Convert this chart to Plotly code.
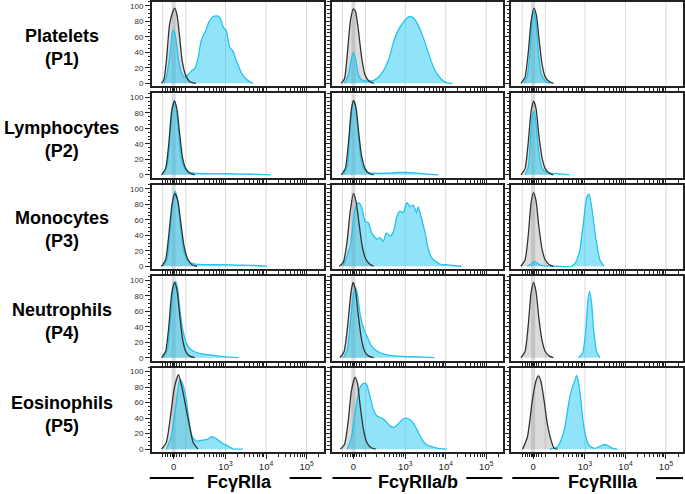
import plotly.graph_objects as go

# ---- axis labels / categories ----
row_labels = ["Platelets<br>(P1)", "Lymphocytes<br>(P2)", "Monocytes<br>(P3)",
              "Neutrophils<br>(P4)", "Eosinophils<br>(P5)"]
col_labels = ["FcγRIIa", "FcγRIIa/b", "FcγRIIIa"]
y_ticks = [0, 20, 40, 60, 80, 100]
# x positions in display (logicle-like) units
x_tick_vals = [0.0, 1.28, 2.28, 3.28]
x_tick_text = ["0", "10<sup>3</sup>", "10<sup>4</sup>", "10<sup>5</sup>"]
x_grid_vals = [-0.27, 0.30, 1.28, 2.28, 3.28]
x_minor_vals = [-0.27, -0.2, -0.14, -0.08, -0.03, -0.015, 0.015, 0.03, 0.08, 0.14, 0.2, 0.30,
                0.58, 0.76, 0.88, 0.98, 1.06, 1.13, 1.19, 1.23,
                1.58, 1.76, 1.88, 1.98, 2.06, 2.13, 2.19, 2.23,
                2.58, 2.76, 2.88, 2.98, 3.06, 3.13, 3.19, 3.23, 3.58]

# ---- histogram data (x in display units, y = % of max) ----
# Row 1 Platelets
g_x_r1c1 = [-0.3, -0.24, -0.18, -0.1, -0.03, 0.025, 0.08, 0.15, 0.21, 0.3, 0.4, 0.55]
g_y_r1c1 = [0, 5, 29, 76, 91, 97, 89, 59, 29, 10, 2, 0]
b_x_r1c1 = [-0.24, -0.18, -0.1, -0.03, 0, 0.05, 0.11, 0.19, 0.27, 0.35, 0.44, 0.52, 0.6, 0.68,
            0.79, 0.87, 0.97, 1.07, 1.15, 1.23, 1.3, 1.38, 1.46, 1.55, 1.67, 1.8, 1.96]
b_y_r1c1 = [0, 8, 34, 66, 69, 59, 34, 14, 8, 11, 16, 19, 32, 55, 68, 79, 86, 87, 84, 72, 68,
            47, 42, 29, 14, 5, 0]

g_x_r1c2 = [-0.3, -0.22, -0.15, -0.07, 0.0, 0.05, 0.12, 0.2, 0.28, 0.38, 0.5]
g_y_r1c2 = [0, 6, 38, 82, 96, 93, 70, 35, 12, 3, 0]
b_x_r1c2 = [-0.22, -0.12, -0.05, 0.0, 0.06, 0.13, 0.22, 0.35, 0.5, 0.62, 0.75, 0.88, 1.0, 1.12,
            1.25, 1.37, 1.47, 1.57, 1.72, 1.86, 2.0, 2.16, 2.3, 2.45]
b_y_r1c2 = [0, 12, 32, 40, 30, 10, 4, 3, 4, 8, 17, 32, 55, 70, 80, 86, 85, 78, 60, 38, 18, 6, 1, 0]

g_x_r1c3 = [-0.3, -0.2, -0.12, -0.05, 0.02, 0.08, 0.15, 0.22, 0.3, 0.4, 0.5]
g_y_r1c3 = [0, 8, 40, 80, 97, 88, 55, 25, 8, 2, 0]
b_x_r1c3 = [-0.22, -0.14, -0.07, -0.02, 0.02, 0.07, 0.13, 0.2, 0.3, 0.42]
b_y_r1c3 = [0, 10, 45, 85, 93, 78, 40, 12, 3, 0]

# Row 2 Lymphocytes
g_x_r2c1 = [-0.3, -0.2, -0.12, -0.05, 0.02, 0.08, 0.15, 0.22, 0.3, 0.4, 0.52]
g_y_r2c1 = [0, 8, 40, 82, 95, 85, 52, 22, 8, 2, 0]
b_x_r2c1 = [-0.26, -0.16, -0.08, -0.02, 0.02, 0.08, 0.15, 0.22, 0.32, 0.5, 0.9, 1.3, 1.7, 2.1, 2.4]
b_y_r2c1 = [0, 12, 55, 90, 96, 78, 38, 14, 5, 2, 1.5, 1.5, 1, 0.5, 0]

g_x_r2c2 = [-0.3, -0.2, -0.12, -0.05, 0.0, 0.06, 0.13, 0.2, 0.28, 0.38, 0.5]
g_y_r2c2 = [0, 8, 42, 84, 96, 88, 55, 25, 9, 2, 0]
b_x_r2c2 = [-0.25, -0.15, -0.08, -0.02, 0.02, 0.08, 0.15, 0.22, 0.32, 0.5, 0.8, 1.1, 1.3, 1.5, 1.8, 2.1]
b_y_r2c2 = [0, 12, 58, 92, 95, 75, 35, 12, 4, 2, 2, 3, 3, 2.5, 1, 0]

g_x_r2c3 = [-0.3, -0.2, -0.12, -0.05, 0.01, 0.07, 0.14, 0.22, 0.3, 0.4, 0.5]
g_y_r2c3 = [0, 8, 42, 82, 95, 86, 52, 22, 8, 2, 0]
b_x_r2c3 = [-0.2, -0.12, -0.06, -0.01, 0.03, 0.08, 0.14, 0.22, 0.35, 0.6, 0.9]
b_y_r2c3 = [0, 10, 50, 78, 82, 62, 28, 8, 3, 1.5, 0]

# Row 3 Monocytes
g_x_r3c1 = [-0.3, -0.2, -0.12, -0.04, 0.03, 0.1, 0.18, 0.26, 0.35, 0.45, 0.58]
g_y_r3c1 = [0, 8, 40, 80, 94, 85, 55, 25, 9, 2, 0]
b_x_r3c1 = [-0.26, -0.16, -0.08, -0.01, 0.04, 0.1, 0.17, 0.25, 0.35, 0.5, 0.8, 1.2, 1.6, 2.0, 2.3]
b_y_r3c1 = [0, 10, 50, 88, 97, 85, 50, 20, 7, 3, 2, 2, 1.5, 1, 0]

g_x_r3c2 = [-0.35, -0.25, -0.16, -0.08, 0.0, 0.06, 0.14, 0.22, 0.3, 0.4, 0.5]
g_y_r3c2 = [0, 5, 30, 70, 94, 85, 55, 25, 10, 3, 0]
b_x_r3c2 = [-0.25, -0.08, 0.04, 0.12, 0.2, 0.29, 0.37, 0.45, 0.58, 0.66, 0.74, 0.81, 0.91, 0.99,
            1.07, 1.15, 1.23, 1.32, 1.40, 1.48, 1.56, 1.60, 1.69, 1.77, 1.85, 1.93, 2.06, 2.18,
            2.30, 2.43, 2.67]
b_y_r3c2 = [0, 26, 73, 82, 77, 58, 56, 43, 35, 37, 32, 43, 39, 45, 64, 71, 69, 82, 77, 79, 69, 77,
            60, 43, 22, 11, 5, 2, 2, 1, 0]

g_x_r3c3 = [-0.3, -0.2, -0.12, -0.05, 0.01, 0.07, 0.14, 0.22, 0.3, 0.4, 0.5]
g_y_r3c3 = [0, 8, 40, 82, 95, 85, 52, 22, 8, 2, 0]
b_x_r3c3 = [-0.15, -0.05, 0.03, 0.1, 0.2, 0.3, 0.6, 0.95, 1.05, 1.15, 1.25, 1.32, 1.38, 1.45,
            1.55, 1.65, 1.75]
b_y_r3c3 = [0, 3, 6, 4, 1, 0.5, 0, 0, 5, 20, 60, 88, 93, 75, 35, 8, 0]

# Row 4 Neutrophils
g_x_r4c1 = [-0.3, -0.2, -0.12, -0.05, 0.02, 0.08, 0.15, 0.22, 0.3, 0.4, 0.52]
g_y_r4c1 = [0, 8, 40, 82, 97, 88, 55, 24, 8, 2, 0]
b_x_r4c1 = [-0.25, -0.15, -0.07, 0.0, 0.05, 0.1, 0.17, 0.25, 0.35, 0.5, 0.7, 1.0, 1.3, 1.6]
b_y_r4c1 = [0, 12, 55, 92, 98, 88, 55, 30, 15, 8, 5, 3, 1, 0]

g_x_r4c2 = [-0.33, -0.23, -0.14, -0.06, -0.01, 0.05, 0.12, 0.2, 0.28, 0.38, 0.5]
g_y_r4c2 = [0, 8, 42, 84, 97, 88, 55, 24, 8, 2, 0]
b_x_r4c2 = [-0.25, -0.15, -0.07, 0.0, 0.05, 0.1, 0.17, 0.25, 0.33, 0.45, 0.6, 0.8, 1.1, 1.6, 2.0]
b_y_r4c2 = [0, 10, 48, 82, 90, 82, 55, 38, 28, 15, 8, 4, 2, 1, 0]

g_x_r4c3 = [-0.3, -0.2, -0.12, -0.05, 0.01, 0.07, 0.14, 0.22, 0.3, 0.4, 0.5]
g_y_r4c3 = [0, 8, 42, 84, 97, 86, 52, 22, 8, 2, 0]
b_x_r4c3 = [1.12, 1.22, 1.29, 1.35, 1.39, 1.44, 1.5, 1.57, 1.65]
b_y_r4c3 = [0, 6, 30, 72, 86, 72, 32, 7, 0]

# Row 5 Eosinophils
g_x_r5c1 = [-0.3, -0.18, -0.06, 0.02, 0.12, 0.22, 0.35, 0.48, 0.6]
g_y_r5c1 = [0, 9, 50, 80, 96, 76, 41, 9, 0]
b_x_r5c1 = [-0.18, -0.06, 0.05, 0.15, 0.21, 0.30, 0.38, 0.46, 0.56, 0.64, 0.77, 0.85, 0.93, 1.01,
            1.09, 1.22, 1.34, 1.46, 1.71]
b_y_r5c1 = [0, 16, 54, 90, 86, 67, 37, 16, 10.5, 11, 12, 13, 16, 15, 12, 7, 4, 0.5, 0]

g_x_r5c2 = [-0.32, -0.22, -0.13, -0.05, 0.04, 0.1, 0.17, 0.25, 0.33, 0.43, 0.55]
g_y_r5c2 = [0, 6, 35, 75, 93, 85, 55, 25, 9, 2, 0]
b_x_r5c2 = [-0.15, -0.05, 0.05, 0.15, 0.25, 0.32, 0.4, 0.5, 0.6, 0.7, 0.8, 0.9, 1.0, 1.1, 1.2,
            1.3, 1.4, 1.5, 1.6, 1.7, 1.8, 1.95, 2.1, 2.3]
b_y_r5c2 = [0, 15, 50, 78, 85, 84, 70, 50, 42, 40, 36, 30, 28, 32, 38, 40, 38, 32, 22, 12, 6, 3, 1, 0]

g_x_r5c3 = [-0.26, -0.14, -0.02, 0.07, 0.13, 0.19, 0.27, 0.35, 0.44, 0.52, 0.6]
g_y_r5c3 = [0, 16, 63, 88, 94.5, 88, 63, 33, 12, 1, 0]
b_x_r5c3 = [0.4, 0.6, 0.77, 0.89, 0.97, 1.04, 1.07, 1.12, 1.18, 1.23, 1.30, 1.38, 1.51, 1.63,
            1.75, 1.83, 1.96, 2.08]
b_y_r5c3 = [0, 3, 25, 63, 80, 90, 95, 86, 63, 37, 16, 5, 1, 3, 6, 5, 1, 0]

panels = [
    [(g_x_r1c1, g_y_r1c1, b_x_r1c1, b_y_r1c1), (g_x_r1c2, g_y_r1c2, b_x_r1c2, b_y_r1c2),
     (g_x_r1c3, g_y_r1c3, b_x_r1c3, b_y_r1c3)],
    [(g_x_r2c1, g_y_r2c1, b_x_r2c1, b_y_r2c1), (g_x_r2c2, g_y_r2c2, b_x_r2c2, b_y_r2c2),
     (g_x_r2c3, g_y_r2c3, b_x_r2c3, b_y_r2c3)],
    [(g_x_r3c1, g_y_r3c1, b_x_r3c1, b_y_r3c1), (g_x_r3c2, g_y_r3c2, b_x_r3c2, b_y_r3c2),
     (g_x_r3c3, g_y_r3c3, b_x_r3c3, b_y_r3c3)],
    [(g_x_r4c1, g_y_r4c1, b_x_r4c1, b_y_r4c1), (g_x_r4c2, g_y_r4c2, b_x_r4c2, b_y_r4c2),
     (g_x_r4c3, g_y_r4c3, b_x_r4c3, b_y_r4c3)],
    [(g_x_r5c1, g_y_r5c1, b_x_r5c1, b_y_r5c1), (g_x_r5c2, g_y_r5c2, b_x_r5c2, b_y_r5c2),
     (g_x_r5c3, g_y_r5c3, b_x_r5c3, b_y_r5c3)],
]

# ---- layout geometry (pixels) ----
W, H = 685, 494
col_left = [152, 332, 512]
col_w = 172
row_top = [1, 93, 185, 277, 369]
row_h = 85

fig = go.Figure()
layout = dict(width=W, height=H, margin=dict(l=0, r=0, t=0, b=0),
              paper_bgcolor="white", plot_bgcolor="white", showlegend=False,
              font=dict(family="Liberation Sans, Arial, sans-serif", color="#222"))

shapes = []
annotations = []
FONT = "Liberation Sans, Arial, sans-serif"

for r in range(5):
    for c in range(3):
        i = r * 3 + c + 1
        xa = "x" if i == 1 else f"x{i}"
        ya = "y" if i == 1 else f"y{i}"
        gx, gy, bx, by = panels[r][c]
        fig.add_trace(go.Scatter(x=gx, y=gy, xaxis=xa, yaxis=ya, mode="lines",
                                 line=dict(width=0, shape="spline", smoothing=0.6),
                                 fill="tozeroy", fillcolor="rgba(140,140,140,0.30)",
                                 hoverinfo="skip"))
        fig.add_trace(go.Scatter(x=bx, y=by, xaxis=xa, yaxis=ya, mode="lines",
                                 line=dict(width=1.3, color="#25c3ee", shape="spline", smoothing=0.6),
                                 fill="tozeroy", fillcolor="rgba(35,200,242,0.50)",
                                 hoverinfo="skip"))
        fig.add_trace(go.Scatter(x=gx, y=gy, xaxis=xa, yaxis=ya, mode="lines",
                                 line=dict(width=1.3, color="#333333", shape="spline", smoothing=0.6),
                                 hoverinfo="skip"))

        x0 = col_left[c] / W
        x1 = (col_left[c] + col_w) / W
        y1 = 1 - row_top[r] / H
        y0 = 1 - (row_top[r] + row_h) / H
        bottom = (r == 4)
        layout["xaxis" if i == 1 else f"xaxis{i}"] = dict(
            domain=[x0, x1], anchor=ya, range=[-0.54, 3.70],
            tickmode="array", tickvals=x_tick_vals, ticktext=x_tick_text,
            showticklabels=bottom, ticks="outside", ticklen=5, tickwidth=1.2, tickcolor="#222",
            tickfont=dict(size=9.5, color="#222", family=FONT),
            showgrid=False, zeroline=False,
            showline=True, linecolor="#222", linewidth=1.5, mirror=True,
            minor=dict(tickmode="array", tickvals=x_minor_vals, ticks="outside",
                       ticklen=3, tickwidth=1, tickcolor="#222", showgrid=False),
            fixedrange=True)
        layout["yaxis" if i == 1 else f"yaxis{i}"] = dict(
            domain=[y0, y1], anchor=xa, range=[-4, 105],
            tickmode="array", tickvals=y_ticks,
            showticklabels=(c == 0), ticks="outside", ticklen=5, tickwidth=1.2, tickcolor="#222",
            tickfont=dict(size=8, color="#333", family=FONT),
            showgrid=False, zeroline=False,
            showline=True, linecolor="#222", linewidth=1.5, mirror=True,
            minor=dict(dtick=5, ticks="outside", ticklen=2.5, tickwidth=1, tickcolor="#222"),
            fixedrange=True)
        shapes.append(dict(type="rect", xref=xa, yref=f"{ya} domain", x0=-0.05, x1=0.05,
                           y0=0, y1=1, fillcolor="#dcdcdc", line=dict(width=0), layer="below"))
        for gv in x_grid_vals:
            shapes.append(dict(type="line", xref=xa, yref=f"{ya} domain", x0=gv, x1=gv,
                               y0=0, y1=1, line=dict(color="#d9d9d9", width=1), layer="below"))

# row labels
row_centers = [47, 139, 230, 322, 416]
for r in range(5):
    annotations.append(dict(text=f"<b>{row_labels[r]}</b>", x=62 / W, y=1 - row_centers[r] / H,
                            xref="paper", yref="paper", showarrow=False, align="center",
                            xanchor="center", yanchor="middle",
                            font=dict(size=18, color="black", family=FONT)))

# column titles with side rules
title_cx = [240, 419, 604]
rule_segments = [(150, 194), (290, 322), (333, 372), (467, 503), (513, 560), (657, 684)]
for c in range(3):
    annotations.append(dict(text=f"<b>{col_labels[c]}</b>", x=title_cx[c] / W, y=1 - 484 / H,
                            xref="paper", yref="paper", showarrow=False,
                            xanchor="center", yanchor="middle",
                            font=dict(size=18, color="black", family=FONT)))
for a, b in rule_segments:
    shapes.append(dict(type="line", xref="paper", yref="paper", x0=a / W, x1=b / W,
                       y0=1 - 480 / H, y1=1 - 480 / H, line=dict(color="black", width=2)))

layout["shapes"] = shapes
layout["annotations"] = annotations
fig.update_layout(**layout)
fig.write_html("out.html", config={"displayModeBar": False},
               post_script="document.body.style.margin='0';")
